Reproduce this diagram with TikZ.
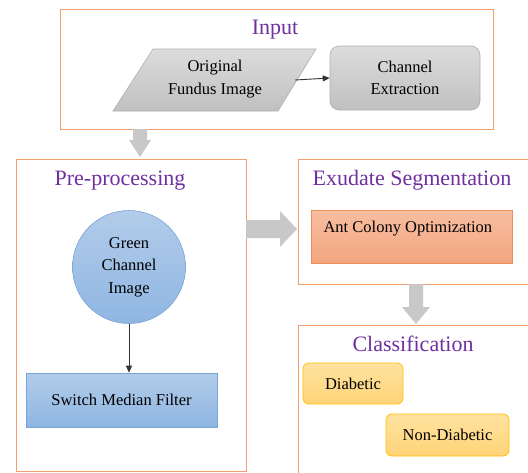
\documentclass[tikz,border=0pt]{standalone}
\usepackage{fontspec}
\setmainfont{Liberation Serif}
\newfontfamily\tnr{Liberation Serif}
\usetikzlibrary{shapes.geometric,arrows.meta,positioning}
\definecolor{frameor}{RGB}{244,160,110}
\definecolor{titlepur}{RGB}{112,48,160}
\definecolor{grayA}{RGB}{220,220,220}
\definecolor{grayB}{RGB}{192,192,192}
\definecolor{grayE}{RGB}{175,175,175}
\definecolor{blueA}{RGB}{178,204,234}
\definecolor{blueB}{RGB}{143,182,226}
\definecolor{blueE}{RGB}{120,164,214}
\definecolor{orA}{RGB}{247,190,160}
\definecolor{orB}{RGB}{243,166,128}
\definecolor{orE}{RGB}{236,142,90}
\definecolor{yelA}{RGB}{255,226,160}
\definecolor{yelB}{RGB}{255,212,120}
\definecolor{yelE}{RGB}{255,192,0}
\definecolor{bigarrow}{RGB}{200,200,200}
\tikzset{
  frame/.style={draw=frameor, line width=1pt},
  ttl/.style={text=titlepur, font=\tnr\fontsize{22}{25}\selectfont, inner sep=0pt},
  txt/.style={font=\tnr\fontsize{16.5}{22.5}\selectfont, align=center, text=black},
  graybox/.style={draw=grayE, top color=grayA, bottom color=grayB, line width=0.6pt},
  bluebox/.style={draw=blueE, top color=blueA, bottom color=blueB, line width=0.6pt},
  orbox/.style={draw=orE, top color=orA, bottom color=orB, line width=0.8pt},
  yelbox/.style={draw=yelE, top color=yelA, bottom color=yelB, line width=0.8pt, rounded corners=6pt},
  conn/.style={draw=black!80, line width=0.9pt, -{Triangle[length=7pt,width=6pt]}},
  fat/.style={fill=bigarrow, draw=none}
}
\begin{document}
\begin{tikzpicture}[x=1pt,y=-1pt]
\clip (0,0) rectangle (528,472);
\fill[white] (0,0) rectangle (528,472);
% Input box
\draw[frame] (60,9) rectangle (493,129);
\node[ttl] (tin) at (275,30) {Input};
\path[graybox] (153,49) -- (316,49) -- (278,111) -- (113,111) -- cycle;
\node[txt] (orig) at (215,79) {Original\\Fundus Image};
\node[graybox, rounded corners=9pt, minimum width=150pt, minimum height=64pt, txt] (chan) at (405,78) {Channel\\Extraction};
\coordinate (origR) at (295,80);
\draw[conn] (origR) -- (chan.west);
% big arrow down 1
\path[fat] (133,129) -- (147,129) -- (147,140) -- (151,140) -- (140,157) -- (129,140) -- (133,140) -- cycle;
% Pre-processing
\draw[frame] (16,159) rectangle (246,471);
\node[ttl] (tpre) at (120,181) {Pre-processing};
\node[circle, bluebox, minimum size=113pt, txt, inner sep=0pt] (green) at (129,267) {Green\\Channel\\Image};
\node[bluebox, minimum width=191pt, minimum height=54pt, txt, inner sep=0pt] (smf) at (121.5,400) {Switch Median Filter};
\draw[conn] (green.south) -- (green.south |- smf.north);
% big arrow right
\path[fat] (246,220) -- (280,220) -- (280,211) -- (297,229) -- (280,247) -- (280,238) -- (246,238) -- cycle;
% Exudate Segmentation
\draw[frame] (540,159) -- (298,159) -- (298,284) -- (540,284);
\node[ttl] (texu) at (412,180) {Exudate Segmentation};
\node[orbox, minimum width=201pt, minimum height=53pt, inner sep=0pt] (aco) at (411.5,236.5) {};
\node[txt, anchor=west] (acot) at (320,229) {Ant Colony Optimization};
% big arrow down 2
\path[fat] (409,284) -- (423,284) -- (423,307) -- (430,307) -- (416,324) -- (402,307) -- (409,307) -- cycle;
% Classification
\draw[frame] (540,325) -- (298,325) -- (298,490);
\node[ttl] (tcls) at (413,344) {Classification};
\node[yelbox, minimum width=100pt, minimum height=41pt, txt, inner sep=0pt] (dia) at (353,383.5) {Diabetic};
\node[yelbox, minimum width=123pt, minimum height=42pt, txt, inner sep=0pt] (ndia) at (447.5,435) {Non-Diabetic};
\end{tikzpicture}
\end{document}
